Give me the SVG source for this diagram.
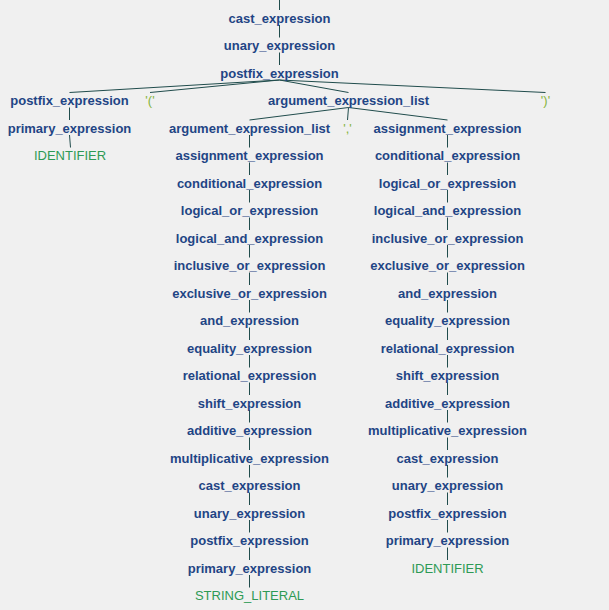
<svg xmlns="http://www.w3.org/2000/svg" width="609" height="610" viewBox="0 0 609 610">
<style>
.n{font-family:"Liberation Sans",Arial,sans-serif;font-size:13px;font-weight:bold;fill:#1f4585;text-anchor:middle}
.t{font-family:"Liberation Sans",Arial,sans-serif;font-size:13px;fill:#2e9a55;text-anchor:middle}
.l{font-family:"Liberation Sans",Arial,sans-serif;font-size:13px;fill:#86b43c;text-anchor:middle}
#edges line{stroke:#204c4c;stroke-width:1}
</style>
<rect width="609" height="610" fill="#f0f0f0"/>
<g id="edges">
<line x1="279.5" y1="0" x2="279.5" y2="10"/>
<line x1="279.5" y1="25" x2="279.5" y2="37.5"/>
<line x1="279.5" y1="52.5" x2="279.5" y2="65"/>
<line x1="279.5" y1="80" x2="69.5" y2="92.5"/>
<line x1="279.5" y1="80" x2="150" y2="92.5"/>
<line x1="279.5" y1="80" x2="348.5" y2="92.5"/>
<line x1="279.5" y1="80" x2="545.5" y2="92.5"/>
<line x1="69.5" y1="107.5" x2="69.5" y2="120"/>
<line x1="69.5" y1="135" x2="70.5" y2="147.5"/>
<line x1="348.5" y1="107.5" x2="249.5" y2="120"/>
<line x1="348.5" y1="107.5" x2="347.5" y2="120"/>
<line x1="348.5" y1="107.5" x2="447.5" y2="120"/>
<line x1="249.5" y1="135" x2="249.5" y2="147.5"/>
<line x1="249.5" y1="162.5" x2="249.5" y2="175"/>
<line x1="249.5" y1="190" x2="249.5" y2="202.5"/>
<line x1="249.5" y1="217.5" x2="249.5" y2="230"/>
<line x1="249.5" y1="245" x2="249.5" y2="257.5"/>
<line x1="249.5" y1="272.5" x2="249.5" y2="285"/>
<line x1="249.5" y1="300" x2="249.5" y2="312.5"/>
<line x1="249.5" y1="327.5" x2="249.5" y2="340"/>
<line x1="249.5" y1="355" x2="249.5" y2="367.5"/>
<line x1="249.5" y1="382.5" x2="249.5" y2="395"/>
<line x1="249.5" y1="410" x2="249.5" y2="422.5"/>
<line x1="249.5" y1="437.5" x2="249.5" y2="450"/>
<line x1="249.5" y1="465" x2="249.5" y2="477.5"/>
<line x1="249.5" y1="492.5" x2="249.5" y2="505"/>
<line x1="249.5" y1="520" x2="249.5" y2="532.5"/>
<line x1="249.5" y1="547.5" x2="249.5" y2="560"/>
<line x1="249.5" y1="575" x2="249.5" y2="587.5"/>
<line x1="447.5" y1="135" x2="447.5" y2="147.5"/>
<line x1="447.5" y1="162.5" x2="447.5" y2="175"/>
<line x1="447.5" y1="190" x2="447.5" y2="202.5"/>
<line x1="447.5" y1="217.5" x2="447.5" y2="230"/>
<line x1="447.5" y1="245" x2="447.5" y2="257.5"/>
<line x1="447.5" y1="272.5" x2="447.5" y2="285"/>
<line x1="447.5" y1="300" x2="447.5" y2="312.5"/>
<line x1="447.5" y1="327.5" x2="447.5" y2="340"/>
<line x1="447.5" y1="355" x2="447.5" y2="367.5"/>
<line x1="447.5" y1="382.5" x2="447.5" y2="395"/>
<line x1="447.5" y1="410" x2="447.5" y2="422.5"/>
<line x1="447.5" y1="437.5" x2="447.5" y2="450"/>
<line x1="447.5" y1="465" x2="447.5" y2="477.5"/>
<line x1="447.5" y1="492.5" x2="447.5" y2="505"/>
<line x1="447.5" y1="520" x2="447.5" y2="532.5"/>
<line x1="447.5" y1="547.5" x2="447.5" y2="560"/>
</g>
<g id="n_cast_top"><text class="n" x="279.5" y="22.5">cast_expression</text></g>
<g id="n_unary_top"><text class="n" x="279.5" y="50">unary_expression</text></g>
<g id="n_postfix_top"><text class="n" x="279.5" y="77.5">postfix_expression</text></g>
<g id="n_postfix_l"><text class="n" x="69.5" y="105">postfix_expression</text></g>
<g id="n_lparen"><text class="l" x="150" y="105">'('</text></g>
<g id="n_arglist"><text class="n" x="348.5" y="105">argument_expression_list</text></g>
<g id="n_rparen"><text class="l" x="545.5" y="105">')'</text></g>
<g id="n_primary_l"><text class="n" x="69.5" y="132.5">primary_expression</text></g>
<g id="n_ident_l"><text class="t" x="70" y="160">IDENTIFIER</text></g>
<g id="n_arglist2"><text class="n" x="249.5" y="132.5">argument_expression_list</text></g>
<g id="n_comma"><text class="l" x="347.5" y="132.5">','</text></g>
<g id="n_assign_r"><text class="n" x="447.5" y="132.5">assignment_expression</text></g>
<g id="c1_5"><text class="n" x="249.5" y="160">assignment_expression</text></g>
<g id="c1_6"><text class="n" x="249.5" y="187.5">conditional_expression</text></g>
<g id="c1_7"><text class="n" x="249.5" y="215">logical_or_expression</text></g>
<g id="c1_8"><text class="n" x="249.5" y="242.5">logical_and_expression</text></g>
<g id="c1_9"><text class="n" x="249.5" y="270">inclusive_or_expression</text></g>
<g id="c1_10"><text class="n" x="249.5" y="297.5">exclusive_or_expression</text></g>
<g id="c1_11"><text class="n" x="249.5" y="325">and_expression</text></g>
<g id="c1_12"><text class="n" x="249.5" y="352.5">equality_expression</text></g>
<g id="c1_13"><text class="n" x="249.5" y="380">relational_expression</text></g>
<g id="c1_14"><text class="n" x="249.5" y="407.5">shift_expression</text></g>
<g id="c1_15"><text class="n" x="249.5" y="435">additive_expression</text></g>
<g id="c1_16"><text class="n" x="249.5" y="462.5">multiplicative_expression</text></g>
<g id="c1_17"><text class="n" x="249.5" y="490">cast_expression</text></g>
<g id="c1_18"><text class="n" x="249.5" y="517.5">unary_expression</text></g>
<g id="c1_19"><text class="n" x="249.5" y="545">postfix_expression</text></g>
<g id="c1_20"><text class="n" x="249.5" y="572.5">primary_expression</text></g>
<g id="c1_21"><text class="t" x="249.5" y="600">STRING_LITERAL</text></g>
<g id="c2_5"><text class="n" x="447.5" y="160">conditional_expression</text></g>
<g id="c2_6"><text class="n" x="447.5" y="187.5">logical_or_expression</text></g>
<g id="c2_7"><text class="n" x="447.5" y="215">logical_and_expression</text></g>
<g id="c2_8"><text class="n" x="447.5" y="242.5">inclusive_or_expression</text></g>
<g id="c2_9"><text class="n" x="447.5" y="270">exclusive_or_expression</text></g>
<g id="c2_10"><text class="n" x="447.5" y="297.5">and_expression</text></g>
<g id="c2_11"><text class="n" x="447.5" y="325">equality_expression</text></g>
<g id="c2_12"><text class="n" x="447.5" y="352.5">relational_expression</text></g>
<g id="c2_13"><text class="n" x="447.5" y="380">shift_expression</text></g>
<g id="c2_14"><text class="n" x="447.5" y="407.5">additive_expression</text></g>
<g id="c2_15"><text class="n" x="447.5" y="435">multiplicative_expression</text></g>
<g id="c2_16"><text class="n" x="447.5" y="462.5">cast_expression</text></g>
<g id="c2_17"><text class="n" x="447.5" y="490">unary_expression</text></g>
<g id="c2_18"><text class="n" x="447.5" y="517.5">postfix_expression</text></g>
<g id="c2_19"><text class="n" x="447.5" y="545">primary_expression</text></g>
<g id="c2_20"><text class="t" x="447.5" y="572.5">IDENTIFIER</text></g>
</svg>
